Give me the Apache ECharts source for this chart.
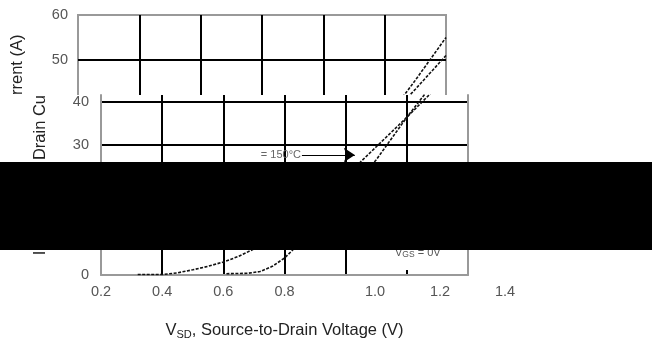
<!DOCTYPE html>
<html>
<head>
<meta charset="utf-8">
<script src="https://cdn.jsdelivr.net/npm/echarts@6/dist/echarts.min.js"></script>
<style>
html, body { margin: 0; padding: 0; background: #fff; }
#chart { width: 658px; height: 345px; }
</style>
</head>
<body>
<div id="chart"></div>
<script>
// values
var tempNames = ['150°C', '25°C'];
var vsd150 = [0.32, 0.40, 0.45, 0.50, 0.55, 0.60, 0.65, 0.70, 0.80, 0.90, 1.00, 1.05, 1.10, 1.20, 1.30, 1.40];
var isd150 = [0.1, 0.1, 0.5, 1.2, 2.0, 3.0, 4.3, 6.0, 10.6, 16.2, 22.6, 26.2, 29.6, 36.4, 43.5, 51.0];
var vsd25 = [0.61, 0.68, 0.72, 0.76, 0.80, 0.83, 0.90, 1.00, 1.10, 1.20, 1.30, 1.40];
var isd25 = [0.3, 0.4, 0.8, 2.0, 3.9, 6.0, 11.5, 18.5, 26.6, 36.4, 45.5, 55.0];
var arrowFrom = [0.857, 27.7];
var arrowTo = [1.03, 27.7];

function pairs(xs, ys) {
	return xs.map(function (x, i) { return [x, ys[i]]; });
}

var font = 'Liberation Sans, Arial, sans-serif';
var gridLine = { show: true, showMinLine: false, showMaxLine: false, lineStyle: { color: '#000', width: 2 } };
var border = { show: true, lineStyle: { color: '#999', width: 2 } };
var curveStyle = { color: '#111', width: 1.6, type: [3, 1.5] };

var chart = echarts.init(document.getElementById('chart'));

var option = {
	animation: false,
	textStyle: { fontFamily: font },
	grid: [
		{ left: 78, top: 15, width: 368, height: 90, show: true, borderColor: '#999', borderWidth: 2 },
		{ left: 101, top: 95, width: 367, height: 180 },
		{ left: 115, top: 274, width: 390, height: 1 }
	],
	xAxis: [
		{
			gridIndex: 0, type: 'value', min: 0.2, max: 1.4, interval: 0.2,
			axisLine: { show: false }, axisTick: { show: false }, axisLabel: { show: false },
			splitLine: gridLine
		},
		{
			gridIndex: 1, type: 'value', min: 0.2, max: 1.4, interval: 0.2, z: 3,
			axisLine: border, axisTick: { show: false },
			axisLabel: {
				margin: 9, fontSize: 14.5, color: '#555', fontFamily: font,
				formatter: function (v) { return v < 0.9 ? v.toFixed(1) : ''; }
			},
			splitLine: gridLine,
			name: '{v|V}{s|SD}{v|, Source-to-Drain Voltage (V)}',
			nameLocation: 'middle', nameGap: 46,
			nameTextStyle: {
				rich: {
					v: { fontSize: 16.5, color: '#222', fontFamily: font },
					s: { fontSize: 11, color: '#222', fontFamily: font, verticalAlign: 'bottom', padding: [8, 0, 0, 0] }
				}
			}
		},
		{
			gridIndex: 2, type: 'value', min: 0.2, max: 1.4, interval: 0.2,
			axisLine: { show: false }, axisTick: { show: false }, splitLine: { show: false },
			axisLabel: {
				margin: 9, fontSize: 14.5, color: '#555', fontFamily: font,
				formatter: function (v) { return v > 0.9 ? v.toFixed(1) : ''; }
			}
		}
	],
	yAxis: [
		{
			gridIndex: 0, type: 'value', min: 40, max: 60, interval: 10,
			axisLine: { show: false }, axisTick: { show: false },
			axisLabel: {
				margin: 10, fontSize: 14.5, color: '#555', fontFamily: font,
				formatter: function (v) { return v > 40 ? String(v) : ''; }
			},
			splitLine: gridLine
		},
		{
			gridIndex: 1, type: 'value', min: 0, max: 41.55, interval: 10, z: 3,
			axisLine: border, axisTick: { show: false },
			axisLabel: {
				margin: 12, fontSize: 14.5, color: '#555', fontFamily: font,
				formatter: function (v) { return v % 10 === 0 ? String(v) : ''; }
			},
			splitLine: gridLine
		},
		{
			gridIndex: 1, type: 'value', position: 'right', min: 0, max: 41.55, z: 3,
			axisLine: border, axisTick: { show: false }, axisLabel: { show: false }, splitLine: { show: false }
		},
		{ gridIndex: 2, type: 'value', show: false }
	],
	series: [
		{
			name: tempNames[0], type: 'line', xAxisIndex: 0, yAxisIndex: 0, z: 1,
			data: pairs(vsd150, isd150), showSymbol: false, lineStyle: curveStyle
		},
		{
			name: tempNames[1], type: 'line', xAxisIndex: 0, yAxisIndex: 0, z: 1,
			data: pairs(vsd25, isd25), showSymbol: false, lineStyle: curveStyle
		},
		{
			name: tempNames[0], type: 'line', xAxisIndex: 1, yAxisIndex: 1, z: 4,
			data: pairs(vsd150, isd150), showSymbol: false, lineStyle: curveStyle,
			markLine: {
				silent: true,
				symbol: ['none', 'arrow'],
				symbolSize: 11,
				label: { show: false },
				lineStyle: { color: '#000', width: 1, type: 'solid' },
				data: [[{ coord: arrowFrom }, { coord: arrowTo }]]
			}
		},
		{
			name: tempNames[1], type: 'line', xAxisIndex: 1, yAxisIndex: 1, z: 4,
			data: pairs(vsd25, isd25), showSymbol: false, lineStyle: curveStyle
		}
	],
	graphic: [
		// lower half of the picture is the same chart pasted a bit to the right
		{ type: 'rect', z: 2, shape: { x: 0, y: 95, width: 658, height: 12 }, style: { fill: '#fff' } },
		{
			type: 'text', z: 5, x: 17, y: 95, rotation: Math.PI / 2,
			style: { text: 'rrent (A)', font: '16.5px ' + font, fill: '#222', align: 'left', verticalAlign: 'middle' }
		},
		{
			type: 'text', z: 5, x: 40, y: 95, rotation: Math.PI / 2,
			style: {
				text: '{v|I}{s|SD}{v|, Reverse Drain Cu}',
				align: 'right', verticalAlign: 'middle',
				rich: {
					v: { fontSize: 16.5, fontFamily: font, fill: '#222' },
					s: { fontSize: 11, fontFamily: font, fill: '#222', padding: [8, 0, 0, 0] }
				}
			}
		},
		{
			type: 'text', z: 5, x: 301, y: 155,
			style: { text: '= ' + tempNames[0], font: '11px ' + font, fill: '#666', align: 'right', verticalAlign: 'middle' }
		},
		{ type: 'rect', z: 5, shape: { x: 360, y: 249, width: 100, height: 21 }, style: { fill: '#fff' } },
		{
			type: 'text', z: 6, x: 395, y: 253,
			style: {
				text: '{v|V}{s|GS}{v| = 0V}',
				align: 'left', verticalAlign: 'middle',
				rich: {
					v: { fontSize: 11, fontFamily: font, fill: '#555' },
					s: { fontSize: 8.5, fontFamily: font, fill: '#555', padding: [4, 0, 0, 0] }
				}
			}
		},
		{ type: 'rect', z: 10, shape: { x: 0, y: 162, width: 652, height: 88 }, style: { fill: '#000' } }
	]
};

chart.setOption(option);
</script>
</body>
</html>
